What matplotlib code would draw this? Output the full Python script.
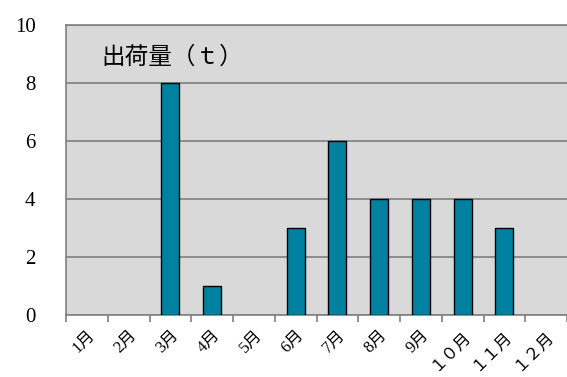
import numpy as np
import matplotlib
matplotlib.use('Agg')
import matplotlib.pyplot as plt
from matplotlib.ticker import FixedLocator

# 月別出荷量
months = ['1月', '2月', '3月', '4月', '5月', '6月', '7月', '8月', '9月',
          '１０月', '１１月', '１２月']
shipments = [0, 0, 8, 1, 0, 3, 6, 4, 4, 4, 3, 0]
y_ticks = [0, 2, 4, 6, 8, 10]
title = '出荷量（ｔ）'

serif_cjk = ['Liberation Serif', 'Noto Sans CJK JP', 'DejaVu Sans']

fig = plt.figure(figsize=(5.67, 3.77), dpi=100)
ax = fig.add_axes([66 / 567, 1 - 315 / 377, 501 / 567, 290 / 377])
ax.set_facecolor('#D9D9D9')

x = np.arange(len(months))
vals = np.array(shipments, dtype=float)
nz = vals > 0  # 0 の月は棒を描かない
ax.bar(x[nz], vals[nz], width=0.43, color='#00819F', edgecolor='black',
       linewidth=1.0, zorder=3)

ax.set_xlim(-0.5, len(months) - 0.5)
ax.set_ylim(0, 10)
ax.set_yticks(y_ticks)
ax.set_yticklabels([str(v) for v in y_ticks], family=serif_cjk, fontsize=15)
ax.tick_params(axis='y', length=0, pad=22)
ax.grid(axis='y', color='#808080', linewidth=1.2, zorder=1)

ax.set_xticks(x)
ax.set_xticklabels(months, rotation=45, ha='right', rotation_mode='anchor',
                   family=serif_cjk, fontsize=12)
ax.tick_params(axis='x', which='major', length=0, pad=9)
ax.xaxis.set_minor_locator(FixedLocator(np.arange(-0.5, len(months), 1.0)))
ax.tick_params(axis='x', which='minor', length=5, width=1.2, color='#808080')

for side in ['left', 'bottom', 'top']:
    ax.spines[side].set_color('#808080')
    ax.spines[side].set_linewidth(1.2)
ax.spines['right'].set_visible(False)

ax.text(0.07, 0.89, title, transform=ax.transAxes, fontsize=17,
        family=['Noto Sans CJK JP', 'DejaVu Sans'], va='center', ha='left')

plt.savefig('out.png', dpi=100)
